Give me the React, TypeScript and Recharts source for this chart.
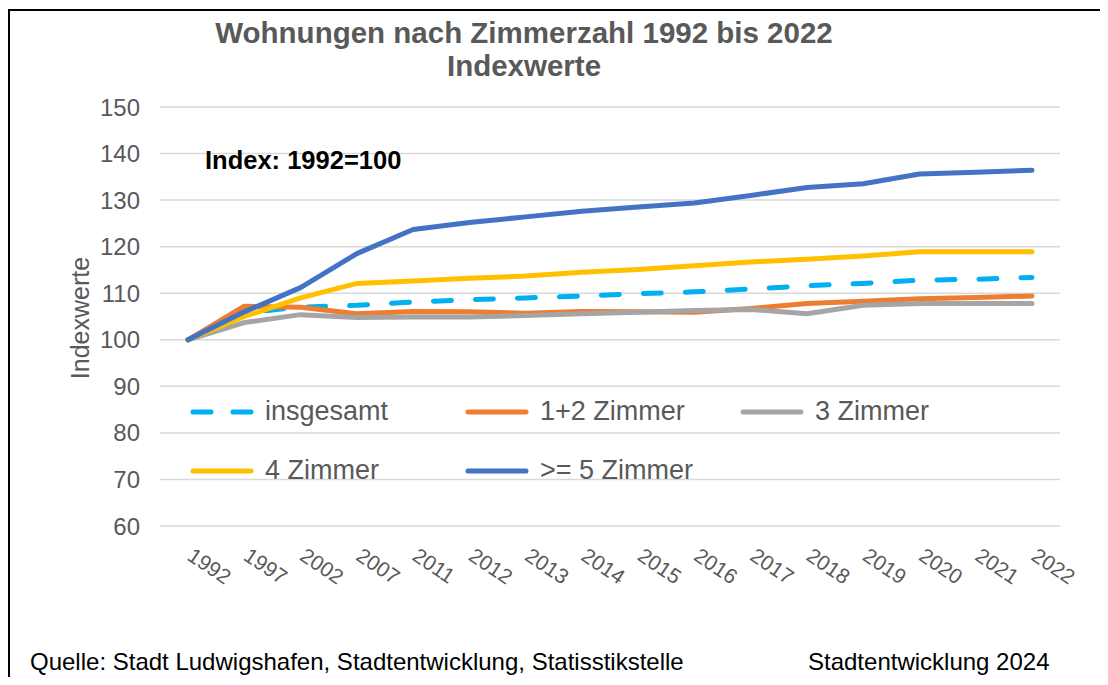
import { LineChart, Line, XAxis, YAxis, CartesianGrid, Legend } from 'recharts';

const years = ['1992', '1997', '2002', '2007', '2011', '2012', '2013', '2014', '2015', '2016', '2017', '2018', '2019', '2020', '2021', '2022'];
const insgesamt = [100, 105.8, 107.0, 107.4, 108.1, 108.6, 109.0, 109.4, 109.9, 110.3, 110.9, 111.6, 112.1, 112.8, 113.0, 113.4];
const zimmer12 = [100, 107.2, 107.0, 105.6, 106.1, 106.0, 105.7, 106.1, 106.0, 105.9, 106.7, 107.8, 108.3, 108.8, 109.1, 109.4];
const zimmer3 = [100, 103.7, 105.4, 104.8, 104.9, 104.9, 105.2, 105.6, 105.9, 106.3, 106.5, 105.6, 107.4, 107.8, 107.8, 107.8];
const zimmer4 = [100, 105.0, 109.0, 112.1, 112.6, 113.2, 113.7, 114.5, 115.1, 115.9, 116.7, 117.3, 118.0, 118.9, 118.9, 118.9];
const zimmer5 = [100, 106.0, 111.2, 118.5, 123.7, 125.2, 126.4, 127.6, 128.5, 129.4, 131.0, 132.7, 133.5, 135.6, 136.0, 136.4];
const yTicks = [60, 70, 80, 90, 100, 110, 120, 130, 140, 150];

const series = [
  { key: 'insgesamt', name: 'insgesamt', color: '#00B0F0', dash: '18 24' },
  { key: 'z12', name: '1+2 Zimmer', color: '#ED7D31', dash: undefined },
  { key: 'z3', name: '3 Zimmer', color: '#A5A5A5', dash: undefined },
  { key: 'z4', name: '4 Zimmer', color: '#FFC000', dash: undefined },
  { key: 'z5', name: '>= 5 Zimmer', color: '#4472C4', dash: undefined },
];

const data = years.map((year, i) => ({
  year,
  insgesamt: insgesamt[i],
  z12: zimmer12[i],
  z3: zimmer3[i],
  z4: zimmer4[i],
  z5: zimmer5[i],
}));

const FONT = '"Liberation Sans", Arial, sans-serif';
const GREY_TEXT = '#595959';

// year labels, slanted downwards like in the Excel original
function YearTick({ x, y, payload }: any) {
  return (
    <g transform={`translate(${x - 2},${y + 25}) rotate(34)`}>
      <text x={0} y={0} textAnchor="start" fill={GREY_TEXT} fontSize={21} fontFamily={FONT}>
        {payload.value}
      </text>
    </g>
  );
}

function LegendBox() {
  return (
    <div style={{ display: 'flex', flexWrap: 'wrap', width: 830 }}>
      {series.map((s) => (
        <div key={s.key} style={{ display: 'flex', alignItems: 'center', width: 275, height: 59 }}>
          <svg width={64} height={10} style={{ marginRight: 11 }}>
            <line
              x1={3}
              y1={5}
              x2={61}
              y2={5}
              stroke={s.color}
              strokeWidth={5}
              strokeLinecap="round"
              strokeDasharray={s.dash ? '18 22' : undefined}
            />
          </svg>
          <span style={{ fontSize: 27, color: GREY_TEXT, fontFamily: FONT, whiteSpace: 'nowrap' }}>{s.name}</span>
        </div>
      ))}
    </div>
  );
}

export default function App() {
  return (
    <div style={{ position: 'relative', width: 1092, height: 669, overflow: 'hidden', fontFamily: FONT }}>
      <div style={{ position: 'absolute', left: 0, top: 1, width: 1200, height: 800, border: '2px solid #000', boxSizing: 'border-box' }} />
      <div style={{ position: 'absolute', left: 0, top: 8, width: 1032, textAlign: 'center', fontSize: 29.5, lineHeight: '33px', fontWeight: 'bold', color: GREY_TEXT }}>
        Wohnungen nach Zimmerzahl 1992 bis 2022
        <br />
        Indexwerte
      </div>
      <LineChart
        width={1092}
        height={669}
        data={data}
        margin={{ top: 99, right: 40, bottom: 91, left: 0 }}
        style={{ position: 'absolute', left: 0, top: 0 }}
      >
        <CartesianGrid vertical={false} stroke="#D9D9D9" strokeWidth={1.5} />
        <XAxis
          dataKey="year"
          padding={{ left: 28, right: 28 }}
          axisLine={false}
          tickLine={false}
          interval={0}
          height={60}
          tick={<YearTick />}
        />
        <YAxis
          domain={[60, 150]}
          ticks={yTicks}
          width={152}
          axisLine={false}
          tickLine={false}
          tickMargin={14}
          tick={{ fill: GREY_TEXT, fontSize: 24, fontFamily: FONT }}
        />
        <Legend
          layout="horizontal"
          verticalAlign="middle"
          align="center"
          content={<LegendBox />}
          wrapperStyle={{ position: 'absolute', left: 182, top: 374, width: 830 }}
        />
        {series.map((s) => (
          <Line
            key={s.key}
            type="linear"
            dataKey={s.key}
            name={s.name}
            stroke={s.color}
            strokeWidth={5}
            strokeDasharray={s.dash}
            strokeLinecap="round"
            strokeLinejoin="round"
            dot={false}
            activeDot={false}
            isAnimationActive={false}
          />
        ))}
      </LineChart>
      <div style={{ position: 'absolute', left: 197, top: 140, fontSize: 25.5, lineHeight: '25px', fontWeight: 'bold', color: '#000' }}>
        Index: 1992=100
      </div>
      <div style={{ position: 'absolute', left: 72, top: 310, transform: 'translate(-50%, -50%) rotate(-90deg)', fontSize: 25, color: GREY_TEXT, whiteSpace: 'nowrap' }}>
        Indexwerte
      </div>
      <div style={{ position: 'absolute', left: 22, top: 642, fontSize: 24, lineHeight: '24px', color: '#000', whiteSpace: 'nowrap' }}>
        Quelle: Stadt Ludwigshafen, Stadtentwicklung, Statisstikstelle
      </div>
      <div style={{ position: 'absolute', left: 800, top: 642, fontSize: 24, lineHeight: '24px', color: '#000', whiteSpace: 'nowrap' }}>
        Stadtentwicklung 2024
      </div>
    </div>
  );
}
